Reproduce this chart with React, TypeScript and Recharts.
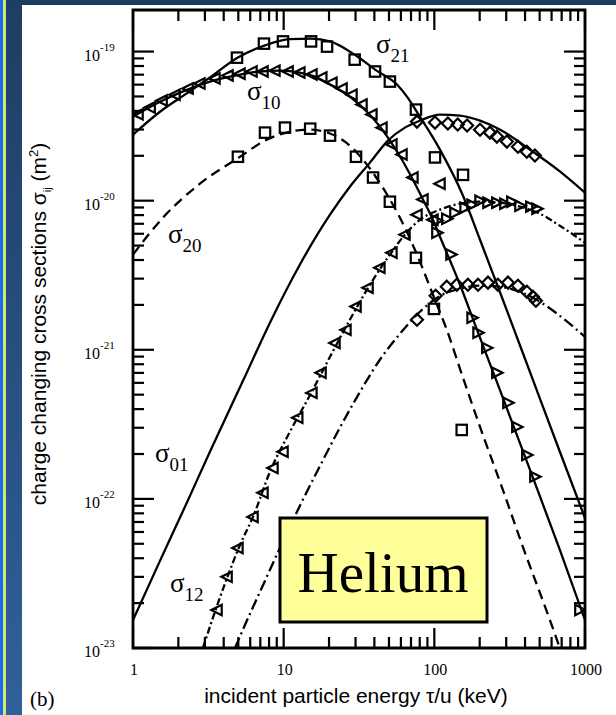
import React from 'react';
import { ComposedChart, Line, Scatter, XAxis, YAxis, ReferenceArea } from 'recharts';

// energy (keV/u) vs cross section (m^2)
const sigma21Line = [[1, 2.77e-20], [1.51, 3.95e-20], [2.21, 5.14e-20], [3.24, 6.7e-20], [4.97, 9.12e-20], [7.52, 1.1e-19], [11, 1.21e-19], [15.2, 1.22e-19], [20.3, 1.17e-19], [30.2, 9.4e-20], [40.4, 7.57e-20], [56.5, 6.01e-20], [65.8, 4.99e-20], [80.2, 3.66e-20], [109, 2.2e-20], [155, 1.08e-20], [201, 5.47e-21], [272, 2.45e-21], [431, 7.11e-22], [681, 2.07e-22], [1000, 7.44e-23]];
const sigma10Line = [[1, 3.66e-20], [1.51, 4.61e-20], [2.21, 5.47e-20], [3.24, 6.29e-20], [4.75, 6.9e-20], [6.96, 7.35e-20], [9.45, 7.45e-20], [12.8, 7.23e-20], [16.1, 6.79e-20], [20.3, 6.01e-20], [27.5, 4.99e-20], [35.7, 3.95e-20], [43.5, 3.14e-20], [49.2, 2.65e-20], [61, 1.88e-20], [72.1, 1.38e-20], [84, 1.02e-20], [97.9, 7.45e-21], [109, 5.73e-21], [148, 2.73e-21], [192, 1.36e-21], [272, 5.4e-22], [431, 1.57e-22], [681, 4.55e-23], [1000, 1.54e-23]];
const sigma01Line = [[1, 1.54e-23], [1.51, 3.84e-23], [2.21, 8.83e-23], [3.24, 2.07e-22], [5.37, 6.19e-22], [8.11, 1.52e-21], [12.8, 3.72e-21], [20.3, 8.05e-21], [27.5, 1.24e-20], [37.4, 1.8e-20], [49.2, 2.53e-20], [63.8, 3.09e-20], [80.2, 3.44e-20], [109, 3.78e-20], [148, 3.72e-20], [201, 3.44e-20], [272, 3.0e-20], [431, 2.2e-20], [681, 1.57e-20], [1000, 1.13e-20]];
const sigma20Line = [[1, 4.35e-21], [1.58, 7.69e-21], [2.78, 1.3e-20], [5.13, 1.97e-20], [7.52, 2.53e-20], [11, 2.9e-20], [15, 3.0e-20], [20.3, 2.82e-20], [25.5, 2.49e-20], [30.2, 2.13e-20], [40.4, 1.47e-20], [50.7, 1.02e-20], [63.8, 6.59e-21], [80.2, 3.9e-21], [97.9, 2.34e-21], [121, 1.36e-21], [155, 6.49e-22], [201, 3.04e-22], [285, 1.15e-22], [387, 4.77e-23], [585, 1.54e-23], [681, 1e-23]];
const sigma12Line = [[2.91, 1e-23], [3.5, 1.75e-23], [4.21, 2.95e-23], [5.13, 4.91e-23], [6.26, 7.57e-23], [8.11, 1.52e-22], [11, 2.82e-22], [15, 4.99e-22], [20.3, 8.97e-22], [27.5, 1.59e-21], [37.4, 2.73e-21], [50.7, 4.35e-21], [63.8, 5.92e-21], [80.2, 7.45e-21], [109, 8.71e-21], [148, 9.55e-21], [201, 9.84e-21], [272, 9.7e-21], [370, 9.12e-21], [502, 8.18e-21], [681, 6.79e-21], [1000, 5.22e-21]];
const sigma02Line = [[4.75, 1e-23], [5.54, 1.43e-23], [6.96, 2.38e-23], [9.45, 4.69e-23], [12.8, 8.97e-23], [17.4, 1.66e-22], [23.6, 3.0e-22], [32.1, 5.22e-22], [43.5, 8.57e-22], [59.1, 1.28e-21], [80.2, 1.8e-21], [109, 2.3e-21], [148, 2.57e-21], [201, 2.69e-21], [272, 2.65e-21], [370, 2.45e-21], [502, 2.1e-21], [681, 1.69e-21], [1000, 1.22e-21]];

// measured points
const sigma21Data = [[4.9, 9.1e-20], [7.4, 1.13e-19], [9.9, 1.17e-19], [15.2, 1.17e-19], [19.4, 1.08e-19], [29.6, 8.83e-20], [40.4, 7.35e-20], [50.7, 6.29e-20], [75.5, 4.08e-20], [101, 1.95e-20], [155, 1.49e-20]];
const sigma20Data = [[4.97, 1.97e-20], [7.52, 2.86e-20], [10.2, 3.09e-20], [15, 3.04e-20], [20.3, 2.73e-20], [30.2, 1.97e-20], [39.2, 1.43e-20], [50.7, 9.84e-21], [75.5, 4.14e-21], [99.4, 1.88e-21], [152, 2.9e-22]];
const sigma10Data = [[1.08, 3.79e-20], [1.3, 4.21e-20], [1.56, 4.69e-20], [1.9, 5.14e-20], [2.32, 5.65e-20], [2.78, 6.1e-20], [3.5, 6.59e-20], [4.27, 6.9e-20], [5.13, 7.11e-20], [6.16, 7.35e-20], [7.29, 7.35e-20], [8.75, 7.45e-20], [10.7, 7.35e-20], [12.8, 7.23e-20], [15.4, 7.01e-20], [17.9, 6.7e-20], [20.9, 6.19e-20], [24.4, 5.65e-20], [28.4, 5.14e-20], [33.1, 4.41e-20], [38.5, 3.79e-20], [44.9, 3.09e-20], [52.3, 2.38e-20], [61, 2.04e-20], [72.1, 1.43e-20], [84, 1.02e-20], [97.9, 7.45e-21]];
const sigma10HighData = [[104, 6.1e-21], [129, 4.35e-21], [178, 1.64e-21], [195, 1.3e-21], [223, 1.03e-21], [260, 7.02e-22], [308, 4.41e-22], [353, 3.04e-22], [411, 1.97e-22], [465, 1.41e-22], [925, 1.8e-23]];
const sigma01Data = [[76.7, 3.39e-20], [101, 3.34e-20], [123, 3.29e-20], [143, 3.24e-20], [165, 3.19e-20], [201, 2.99e-20], [234, 2.86e-20], [260, 2.69e-20], [303, 2.49e-20], [359, 2.3e-20], [411, 2.13e-20], [465, 2.01e-20]];
const sigma12RiseData = [[3.61, 1.8e-23], [4.21, 3.0e-23], [4.97, 4.69e-23], [6.26, 7.57e-23], [7.29, 1.1e-22], [8.49, 1.61e-22], [9.9, 2.07e-22], [12.4, 3.5e-22], [15.4, 5.14e-22], [17.7, 7.02e-22], [21.9, 1.11e-21], [25.9, 1.36e-21], [30.2, 1.95e-21], [36.3, 2.61e-21], [43.5, 3.55e-21], [52.3, 4.48e-21], [63.8, 5.92e-21], [76.7, 8.05e-21], [109, 1.3e-20]];
const sigma12Data = [[104, 7.35e-21], [121, 7.57e-21], [137, 8.3e-21], [160, 8.97e-21], [178, 9.4e-21], [201, 1.0e-20], [227, 9.7e-21], [260, 9.7e-21], [294, 9.55e-21], [327, 9.84e-21], [370, 9.25e-21], [437, 9.12e-21], [480, 8.84e-21]];
const sigma02Data = [[76.7, 1.59e-21], [102, 2.3e-21], [121, 2.65e-21], [141, 2.73e-21], [167, 2.73e-21], [195, 2.73e-21], [227, 2.82e-21], [264, 2.73e-21], [308, 2.82e-21], [359, 2.69e-21], [411, 2.45e-21], [451, 2.27e-21], [472, 2.13e-21]];

const xDecades = [1, 10, 100];
const yDecades = [1e-23, 1e-22, 1e-21, 1e-20, 1e-19];
const X_DOMAIN = [1, 1000];
const Y_DOMAIN = [1e-23, 1.9e-19];

const xTicks = [...xDecades.flatMap(d => [1, 2, 3, 4, 5, 6, 7, 8, 9].map(m => m * d)), 1000];
const yTicks = [...yDecades.slice(0, 4).flatMap(d => [1, 2, 3, 4, 5, 6, 7, 8, 9].map(m => m * d)), 1e-19];

const PLOT = { left: 133, top: 10, right: 585, bottom: 648 };
const serif = '"Liberation Serif", "Times New Roman", serif';
const sans = '"Liberation Sans", Arial, sans-serif';

const pts = (pairs: number[][]) => pairs.map(([x, y]) => ({ x, y }));
const isMajor = (v: number) => Math.abs(Math.log10(v) - Math.round(Math.log10(v))) < 1e-6;

const XTick = (props: any) => {
  const { x, y, payload } = props;
  const major = isMajor(payload.value);
  const len = major ? 20 : 11;
  return (
    <g>
      <line x1={x} x2={x} y1={y} y2={y - len} stroke="#000" strokeWidth={2.2} />
      <line x1={x} x2={x} y1={PLOT.top} y2={PLOT.top + len} stroke="#000" strokeWidth={2.2} />
      {major && (
        <text x={x + 1} y={y + 27} textAnchor="middle" fontFamily={serif} fontSize={16} fill="#000">
          {Math.round(payload.value)}
        </text>
      )}
    </g>
  );
};

const YTick = (props: any) => {
  const { x, y, payload } = props;
  const major = isMajor(payload.value);
  const len = major ? 21 : 11;
  return (
    <g>
      <line x1={x} x2={x + len} y1={y} y2={y} stroke="#000" strokeWidth={2.2} />
      <line x1={PLOT.right} x2={PLOT.right - len} y1={y} y2={y} stroke="#000" strokeWidth={2.2} />
      {major && (
        <g fontFamily={serif} fill="#000">
          <text x={100} y={y + 9} textAnchor="end" fontSize={16}>10</text>
          <text x={100} y={y - 1} fontSize={11}>{String(Math.round(Math.log10(payload.value)))}</text>
        </g>
      )}
    </g>
  );
};

const MS = 5.2;
const Square = (p: any) => (
  <rect x={p.cx - MS} y={p.cy - MS} width={MS * 2} height={MS * 2} fill="none" stroke="#000" strokeWidth={2.2} />
);
const LeftTri = (p: any) => (
  <polygon points={`${p.cx - MS - 0.5},${p.cy} ${p.cx + MS - 0.5},${p.cy - MS} ${p.cx + MS - 0.5},${p.cy + MS}`} fill="none" stroke="#000" strokeWidth={2.2} />
);
const RightTri = (p: any) => (
  <polygon points={`${p.cx + MS + 0.5},${p.cy} ${p.cx - MS + 0.5},${p.cy - MS} ${p.cx - MS + 0.5},${p.cy + MS}`} fill="none" stroke="#000" strokeWidth={2.2} />
);
const Diamond = (p: any) => (
  <polygon points={`${p.cx},${p.cy - 6} ${p.cx + 6},${p.cy} ${p.cx},${p.cy + 6} ${p.cx - 6},${p.cy}`} fill="none" stroke="#000" strokeWidth={2.2} />
);

const lines = [
  { key: 's21', data: sigma21Line, dash: undefined },
  { key: 's10', data: sigma10Line, dash: undefined },
  { key: 's01', data: sigma01Line, dash: undefined },
  { key: 's20', data: sigma20Line, dash: '10 6' },
  { key: 's12', data: sigma12Line, dash: '7 3 2 3' },
  { key: 's02', data: sigma02Line, dash: '11 4 2 4' },
];

const markers = [
  { key: 'd21', data: sigma21Data, shape: Square },
  { key: 'd20', data: sigma20Data, shape: Square },
  { key: 'd10', data: sigma10Data, shape: LeftTri },
  { key: 'd10h', data: sigma10HighData, shape: RightTri },
  { key: 'd01', data: sigma01Data, shape: Diamond },
  { key: 'd12r', data: sigma12RiseData, shape: LeftTri },
  { key: 'd12', data: sigma12Data, shape: RightTri },
  { key: 'd02', data: sigma02Data, shape: Diamond },
];

const sigmaLabels = [
  { sub: '21', x: 376, y: 53 },
  { sub: '10', x: 247, y: 100 },
  { sub: '20', x: 168, y: 243 },
  { sub: '01', x: 155, y: 462 },
  { sub: '12', x: 170, y: 592 },
];

export default function App() {
  return (
    <div style={{ position: 'absolute', left: 0, top: 0, width: 616, height: 715, background: '#fff', overflow: 'hidden' }}>
      <div style={{ position: 'absolute', left: 0, top: 0, width: 616, height: 5, background: '#1d3a5f' }} />
      <div style={{ position: 'absolute', left: 0, top: 0, width: 22, height: 715, background: 'linear-gradient(#1f3d64, #30609a)' }} />
      <div style={{ position: 'absolute', left: 0, top: 0, width: 3, height: 715, background: '#1b6bf2' }} />
      <div style={{ position: 'absolute', left: 3, top: 0, width: 3, height: 715, background: '#cfe96a' }} />

      <div style={{ position: 'absolute', left: 0, top: 0 }}>
        <ComposedChart width={616} height={715} margin={{ top: 10, right: 31, bottom: 0, left: 0 }}>
          <XAxis
            type="number"
            dataKey="x"
            scale="log"
            domain={X_DOMAIN}
            allowDataOverflow
            ticks={xTicks}
            interval={0}
            tick={(p: any) => <XTick {...p} />}
            tickSize={0}
            tickMargin={0}
            axisLine={false}
            tickLine={false}
            height={67}
          />
          <YAxis
            type="number"
            dataKey="y"
            scale="log"
            domain={Y_DOMAIN}
            allowDataOverflow
            ticks={yTicks}
            interval={0}
            tick={(p: any) => <YTick {...p} />}
            tickSize={0}
            tickMargin={0}
            axisLine={false}
            tickLine={false}
            width={133}
          />
          {lines.map(l => (
            <Line
              key={l.key}
              data={pts(l.data)}
              dataKey="y"
              type="monotone"
              stroke="#000"
              strokeWidth={2.3}
              strokeDasharray={l.dash}
              dot={false}
              activeDot={false}
              isAnimationActive={false}
            />
          ))}
          {markers.map(m => (
            <Scatter key={m.key} data={pts(m.data)} dataKey="y" shape={m.shape} isAnimationActive={false} />
          ))}
          <ReferenceArea
            x1={X_DOMAIN[0]}
            x2={X_DOMAIN[1]}
            y1={Y_DOMAIN[0]}
            y2={Y_DOMAIN[1]}
            fill="none"
            stroke="#000"
            strokeWidth={2.8}
            fillOpacity={0}
            ifOverflow="visible"
          />
        </ComposedChart>
      </div>

      <svg width={616} height={715} style={{ position: 'absolute', left: 0, top: 0, pointerEvents: 'none' }}>
        {sigmaLabels.map(s => (
          <text key={s.sub} x={s.x} y={s.y} fontFamily={serif} fontSize={27} fill="#000">
            σ<tspan fontSize={19} dy={9}>{s.sub}</tspan>
          </text>
        ))}
        <rect x={280} y={518} width={207} height={104} fill="#ffff99" stroke="#000" strokeWidth={3} />
        <text x={383} y={592} textAnchor="middle" fontFamily={serif} fontSize={57} fill="#000">Helium</text>
        <text transform="translate(46 324) rotate(-90)" textAnchor="middle" fontFamily={sans} fontSize={21} fill="#000">
          charge changing cross sections σ<tspan fontSize={11} dy={5}>ij</tspan>
          <tspan dy={-5}> (m</tspan>
          <tspan fontSize={13} dy={-8}>2</tspan>
          <tspan dy={8}>)</tspan>
        </text>
        <text x={356} y={703} textAnchor="middle" fontFamily={sans} fontSize={21} fill="#000">
          incident particle energy τ/u (keV)
        </text>
        <text x={30} y={706} fontFamily={serif} fontSize={21} fill="#000">(b)</text>
      </svg>
    </div>
  );
}
